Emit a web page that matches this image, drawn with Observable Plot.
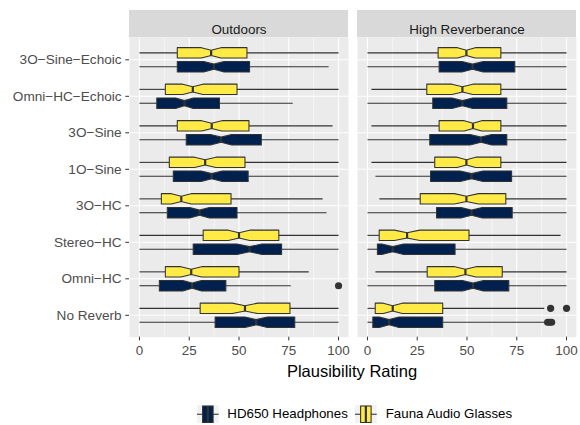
<!DOCTYPE html>
<html><head><meta charset="utf-8">
<script src="https://cdn.jsdelivr.net/npm/d3@7"></script>
<script src="https://cdn.jsdelivr.net/npm/@observablehq/plot@0.6"></script>
<style>
body{margin:0;background:#fff;font-family:"Liberation Sans",Arial,Helvetica,sans-serif;}
#wrap{position:relative;width:580px;height:425px;overflow:hidden;}
#chart{position:absolute;left:0;top:0;}
#title{position:absolute;left:128px;width:448px;top:363px;text-align:center;font-size:16.5px;line-height:1;color:#000;white-space:nowrap;}
#legend{position:absolute;top:404.5px;left:197px;height:18.5px;display:flex;align-items:center;font-size:13.3px;color:#000;white-space:nowrap;}
#legend .key{display:block;}
#legend .lab{margin-left:8.6px;}
</style></head>
<body><div id="wrap"><div id="chart"></div><div id="title"></div><div id="legend"></div></div>
<script>
// ---------------- data ----------------
const environments = ["Outdoors", "High Reverberance"];
const devices = ["HD650 Headphones", "Fauna Audio Glasses"];
// conditions listed bottom -> top
const conditions = ["No Reverb", "Omni-HC", "Stereo-HC", "3O-HC", "1O-Sine", "3O-Sine", "Omni-HC-Echoic", "3O-Sine-Echoic"];
const xTicks = [0, 25, 50, 75, 100];
const xMinorTicks = [12.5, 37.5, 62.5, 87.5];
const xAxisTitle = "Plausibility Rating";
// [lower whisker, Q1, median, Q3, upper whisker] per condition
const outdoorsHD650 = [[0,38,58.6,78,100],[0,10,26.5,43.4,76],[0,27,55.3,71.4,100],[0,14,30.2,49,94],[0,17,36.3,54.6,100],[0,23.5,41,61.2,100],[0,8.7,22.6,40.2,77],[0,19,37.4,55.3,95]];
const outdoorsFauna = [[0,30.5,53,75.6,100],[0,13,26,50,85],[0,32,50,70,100],[0,11,21,46,92],[0,15,33,53,100],[0,19,36.3,55,97],[0,13,26.8,49,100],[0,19,36,54,100]];
const reverbHD650 = [[0,2.7,10.9,37.8,89],[0,33.8,53,71,100],[0,5,12.7,44,100],[0,34.7,52.3,72.7,100],[4,31.7,52.3,72.4,100],[0,31.3,57,70,100],[0,32.8,47.7,70,100],[0,36,52.8,74,100]];
const reverbFauna = [[0,3.9,12.7,37.8,88.8],[4,30,49.2,67.7,100],[0,5.9,19.9,51,97],[6,26.5,49.7,69.5,100],[2,33.8,49.7,67,100],[2,36,53,67,100],[2,29.8,47.7,67,100],[0,35.5,49.7,67,100]];
// outliers: [environment, device, condition, value]
const outliers = [["Outdoors","HD650 Headphones","Omni-HC",100],["High Reverberance","Fauna Audio Glasses","No Reverb",92],["High Reverberance","Fauna Audio Glasses","No Reverb",100],["High Reverberance","HD650 Headphones","No Reverb",90.5],["High Reverberance","HD650 Headphones","No Reverb",91.5],["High Reverberance","HD650 Headphones","No Reverb",92.5]];
const ratingsPerBox = 125; // estimated sample size (drives notch width)
const fillColors = ["#00204D", "#FFEA46"];

// ---------------- layout ----------------
const W = 580, H = 362, mT = 37.4, mB = H - 336.7, mL = 128, mR = 4;
const xDomain = [-5, 105];
const yDomain = [0.4, conditions.length + 0.6];
const pxPerY = (H - mT - mB) / (yDomain[1] - yDomain[0]);
const dodge = 0.19, half = 0.143, stripPx = 27.4;
const label = s => s.replace(/-/g, "\u2212");

const tables = {
  "Outdoors": {"HD650 Headphones": outdoorsHD650, "Fauna Audio Glasses": outdoorsFauna},
  "High Reverberance": {"HD650 Headphones": reverbHD650, "Fauna Audio Glasses": reverbFauna}
};
const yPos = (cond, dev) => conditions.indexOf(cond) + 1 + (dev === devices[0] ? -dodge : dodge);

const rows = [];
for (const env of environments) for (const dev of devices) tables[env][dev].forEach((s, i) => {
  const [lo, q1, med, q3, hi] = s;
  const nh = 1.58 * (q3 - q1) / Math.sqrt(ratingsPerBox);
  rows.push({id: env + "|" + dev + "|" + i, env, dev, yc: yPos(conditions[i], dev), lo, q1, med, q3, hi, nlo: med - nh, nhi: med + nh});
});
const poly = [];
for (const r of rows) {
  const t = r.yc + half, b = r.yc - half, t2 = r.yc + half / 2, b2 = r.yc - half / 2;
  [[r.q1,t],[r.nlo,t],[r.med,t2],[r.nhi,t],[r.q3,t],[r.q3,b],[r.nhi,b],[r.med,b2],[r.nlo,b],[r.q1,b]]
    .forEach(([x, y]) => poly.push({id: r.id, env: r.env, dev: r.dev, x, y}));
}
const outRows = outliers.map(([env, dev, cond, v]) => ({env, dev, v, yc: yPos(cond, dev)}));

const grey = "#333333";
const chart = Plot.plot({
  width: W, height: H, marginTop: mT, marginBottom: mB, marginLeft: mL, marginRight: mR,
  style: {fontFamily: '"Liberation Sans", Arial, Helvetica, sans-serif', fontSize: "13.4px", background: "white"},
  fx: {domain: environments, paddingInner: 0.041, paddingOuter: 0, axis: null, label: null},
  x: {domain: xDomain},
  y: {domain: yDomain},
  color: {domain: devices, range: fillColors},
  marks: [
    Plot.frame({fill: "#EBEBEB"}),
    Plot.ruleX(xMinorTicks, {stroke: "white", strokeWidth: 0.55}),
    Plot.ruleX(xTicks, {stroke: "white", strokeWidth: 1.1}),
    Plot.ruleY(conditions.map((c, i) => i + 1), {stroke: "white", strokeWidth: 1.1}),
    Plot.rect(environments, {fx: d => d, x1: () => xDomain[0], x2: () => xDomain[1], y1: () => yDomain[1], y2: () => yDomain[1] + stripPx / pxPerY, fill: "#D9D9D9"}),
    Plot.text(environments, {fx: d => d, text: d => d, frameAnchor: "top", dy: -stripPx / 2, fontSize: 13.4, fill: "#1A1A1A"}),
    Plot.link(rows, {fx: "env", x1: "lo", x2: "q1", y1: "yc", y2: "yc", stroke: grey, strokeWidth: 1.07}),
    Plot.link(rows, {fx: "env", x1: "q3", x2: "hi", y1: "yc", y2: "yc", stroke: grey, strokeWidth: 1.07}),
    Plot.line(poly, {fx: "env", x: "x", y: "y", z: "id", fill: "dev", stroke: grey, strokeWidth: 1.07, curve: "linear-closed"}),
    Plot.link(rows, {fx: "env", x1: "med", x2: "med", y1: d => d.yc - half / 2, y2: d => d.yc + half / 2, stroke: grey, strokeWidth: 2.2}),
    Plot.dot(outRows, {fx: "env", x: "v", y: "yc", r: 3.6, fill: grey, stroke: null}),
    Plot.axisX({ticks: xTicks, tickSize: 3.7, tickPadding: 4.3, fontSize: 13.4, fill: "#4D4D4D", stroke: grey, label: null}),
    Plot.axisY({ticks: conditions.map((c, i) => i + 1), tickFormat: v => label(conditions[v - 1]), tickSize: 3.7, tickPadding: 4.2, fontSize: 13.6, fill: "#4D4D4D", stroke: grey, label: null})
  ]
});
document.getElementById("chart").appendChild(chart);
document.getElementById("title").textContent = xAxisTitle;

// legend
const leg = document.getElementById("legend");
devices.forEach((dev, i) => {
  const kw = 21.7, kh = 18.5;
  const ns = "http://www.w3.org/2000/svg";
  const svg = document.createElementNS(ns, "svg");
  svg.setAttribute("width", kw); svg.setAttribute("height", kh); svg.setAttribute("class", "key");
  if (i > 0) svg.style.marginLeft = "7.7px";
  const add = (tag, attrs) => { const e = document.createElementNS(ns, tag); for (const k in attrs) e.setAttribute(k, attrs[k]); svg.appendChild(e); };
  add("rect", {x: 0, y: 0, width: kw, height: kh, fill: "#F2F2F2"});
  add("line", {x1: 0, x2: kw, y1: kh / 2, y2: kh / 2, stroke: grey, "stroke-width": 1.07});
  add("rect", {x: 5.6, y: 1, width: 10.5, height: kh - 2, fill: fillColors[i], stroke: grey, "stroke-width": 1.07});
  add("line", {x1: kw / 2, x2: kw / 2, y1: 1, y2: kh - 1, stroke: grey, "stroke-width": 2.2});
  leg.appendChild(svg);
  const sp = document.createElement("span"); sp.className = "lab"; sp.textContent = dev; leg.appendChild(sp);
});
</script></body></html>
